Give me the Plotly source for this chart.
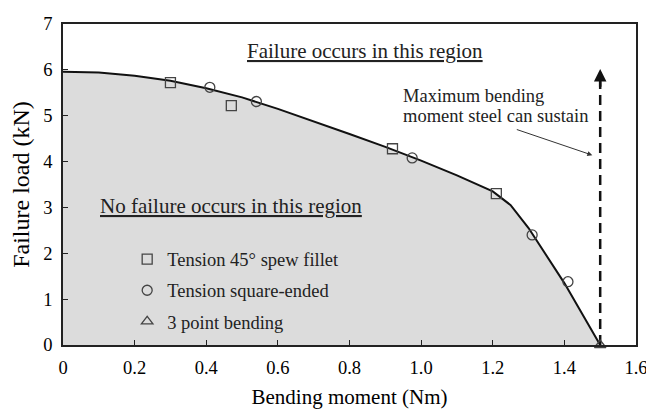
import plotly.graph_objects as go

# Boundary curve
curve_x = [0, 0.1, 0.2, 0.3, 0.4, 0.5, 0.6, 0.7, 0.8, 0.9, 1.0, 1.1, 1.2, 1.25, 1.3, 1.4, 1.5]
curve_y = [5.96, 5.94, 5.87, 5.76, 5.6, 5.4, 5.15, 4.88, 4.6, 4.32, 4.02, 3.7, 3.35, 3.05, 2.55, 1.35, 0]

# Data points
spew_x = [0.30, 0.47, 0.92, 1.21]
spew_y = [5.72, 5.22, 4.28, 3.30]
square_x = [0.41, 0.54, 0.975, 1.31, 1.41]
square_y = [5.62, 5.31, 4.08, 2.40, 1.38]
bend_x = [1.5]
bend_y = [0]

steel_x = [1.5, 1.5]
steel_y = [0, 5.75]

x_ticks = [0, 0.2, 0.4, 0.6, 0.8, 1.0, 1.2, 1.4, 1.6]
x_labels = ["0", "0.2", "0.4", "0.6", "0.8", "1.0", "1.2", "1.4", "1.6"]
y_ticks = [0, 1, 2, 3, 4, 5, 6, 7]

FONT = "Liberation Serif"
fig = go.Figure()

fig.add_trace(go.Scatter(x=curve_x, y=curve_y, mode="lines", fill="tozeroy",
                         fillcolor="#dcdcdc", line=dict(color="#111", width=2),
                         showlegend=False, hoverinfo="skip"))
fig.add_trace(go.Scatter(x=steel_x, y=steel_y, mode="lines",
                         line=dict(color="#111", width=2.5, dash="10px,6px"),
                         showlegend=False, cliponaxis=False))
fig.add_trace(go.Scatter(x=spew_x, y=spew_y, mode="markers", name="Tension 45° spew fillet",
                         legendgroup="a",
                         marker=dict(symbol="square-open", size=10, color="#444", line=dict(width=1.3))))
fig.add_trace(go.Scatter(x=square_x, y=square_y, mode="markers", name="Tension square-ended",
                         legendgroup="b",
                         marker=dict(symbol="circle-open", size=10, color="#444", line=dict(width=1.3))))
fig.add_trace(go.Scatter(x=bend_x, y=bend_y, mode="markers", name="3 point bending",
                         legendgroup="c", cliponaxis=False,
                         marker=dict(symbol="triangle-up-open", size=10, color="#444", line=dict(width=1.3))))

fig.add_annotation(x=1.5, y=6.02, ax=1.5, ay=5.6, xref="x", yref="y", axref="x", ayref="y",
                   text="", showarrow=True, arrowhead=2, arrowsize=1, arrowwidth=2.5, arrowcolor="#111")
fig.add_annotation(x=1.478, y=4.14, ax=1.263, ay=4.71, xref="x", yref="y", axref="x", ayref="y",
                   text="", showarrow=True, arrowhead=2, arrowsize=1, arrowwidth=1, arrowcolor="#333")
fig.add_annotation(x=0.945, y=5.43, xref="x", yref="y", xanchor="left", yanchor="middle",
                   text="Maximum bending", showarrow=False, align="left",
                   font=dict(family=FONT, size=18.5, color="#222"))
fig.add_annotation(x=0.945, y=4.99, xref="x", yref="y", xanchor="left", yanchor="middle",
                   text="moment steel can sustain", showarrow=False, align="left",
                   font=dict(family=FONT, size=18.5, color="#222"))
fig.add_annotation(x=0.844, y=6.405, xref="x", yref="y",
                   text="<u>Failure occurs in this region</u>", showarrow=False,
                   font=dict(family=FONT, size=21, color="#222"))
fig.add_annotation(x=0.47, y=3.04, xref="x", yref="y",
                   text="<u>No failure occurs in this region</u>", showarrow=False,
                   font=dict(family=FONT, size=21, color="#222"))

# the page body has an 8px margin; size the figure to fill the 654x412 window
fig.update_layout(
    width=646, height=404,
    margin=dict(l=55, r=12, t=6, b=67),
    paper_bgcolor="white", plot_bgcolor="white",
    font=dict(family=FONT, color="#111"),
    showlegend=True,
    legend=dict(x=0.112, y=0.325, xanchor="left", yanchor="top", bgcolor="rgba(0,0,0,0)",
                font=dict(family=FONT, size=18.5, color="#222"), tracegroupgap=4,
                traceorder="grouped", itemwidth=30),
    xaxis=dict(range=[0, 1.6], tickvals=x_ticks, ticktext=x_labels, showgrid=False, zeroline=False,
               showline=True, linecolor="#222", linewidth=1.5, mirror=True,
               ticks="inside", ticklen=5, tickcolor="#222", ticklabeloverflow="allow",
               ticklabelstandoff=5,
               tickfont=dict(family=FONT, size=18.5, color="#000"),
               title=dict(text="Bending moment (Nm)", font=dict(family=FONT, size=21, color="#000"), standoff=12)),
    yaxis=dict(range=[0, 7], tickvals=y_ticks, showgrid=False, zeroline=False,
               showline=True, linecolor="#222", linewidth=1.5, mirror=True,
               ticks="inside", ticklen=5, tickcolor="#222", ticklabeloverflow="allow",
               ticklabelstandoff=5,
               tickfont=dict(family=FONT, size=18.5, color="#000"),
               title=dict(text="Failure load (kN)", font=dict(family=FONT, size=24, color="#000"), standoff=12)),
)

fig.write_html("out.html")
